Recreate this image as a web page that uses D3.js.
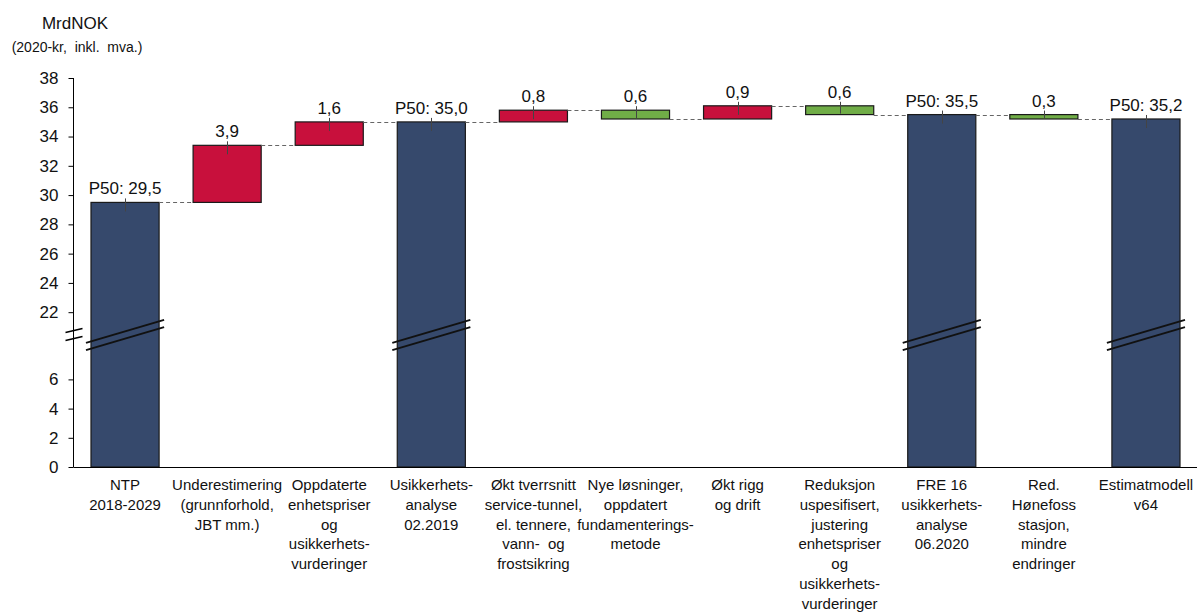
<!DOCTYPE html>
<html>
<head>
<meta charset="utf-8">
<script src="https://cdn.jsdelivr.net/npm/d3@7"></script>
<style>
  html, body { margin: 0; padding: 0; background: #fff; }
  svg { display: block; font-family: "Liberation Sans", Arial, sans-serif; }
</style>
</head>
<body>
<svg id="chart" width="1197" height="613"></svg>
<script>
// ---- data ----
const categories = [
  ["NTP", "2018-2029"],
  ["Underestimering", "(grunnforhold,", "JBT mm.)"],
  ["Oppdaterte", "enhetspriser", "og", "usikkerhets-", "vurderinger"],
  ["Usikkerhets-", "analyse", "02.2019"],
  ["Økt tverrsnitt", "service-tunnel,", "el. tennere,", "vann-  og", "frostsikring"],
  ["Nye løsninger,", "oppdatert", "fundamenterings-", "metode"],
  ["Økt rigg", "og drift"],
  ["Reduksjon", "uspesifisert,", "justering", "enhetspriser", "og", "usikkerhets-", "vurderinger"],
  ["FRE 16", "usikkerhets-", "analyse", "06.2020"],
  ["Red.", "Hønefoss", "stasjon,", "mindre", "endringer"],
  ["Estimatmodell", "v64"]
];
// type: "total" (P50 level), "up" (increase), "down" (reduction)
const types  = ["total", "up", "up", "total", "up", "down", "up", "down", "total", "down", "total"];
const values = [29.5, 3.9, 1.6, 35.0, 0.8, 0.6, 0.9, 0.6, 35.5, 0.3, 35.2];
const lowerTicks = [0, 2, 4, 6];
const upperTicks = [22, 24, 26, 28, 30, 32, 34, 36, 38];
const breakLow = 9, breakHigh = 20.4;  // hidden value range of the broken axis

const colors = { total: "#36496c", up: "#c8103c", down: "#70ad47" };
const fmt = v => d3.format(".1f")(v).replace(".", ",");

// ---- compute waterfall ----
let running = 0;
const bars = values.map((v, i) => {
  const t = types[i];
  let y0, y1;
  if (t === "total") { y0 = 0; y1 = v; running = v; }
  else if (t === "up") { y0 = running; y1 = running + v; running = y1; }
  else { y0 = running - v; y1 = running; running = y0; }
  return { i, t, v, y0, y1, end: running };
});

// ---- scales ----
const svg = d3.select("#chart");
const x = d3.scaleBand().domain(d3.range(categories.length))
  .range([74, 1197]).paddingInner(0.333).paddingOuter(0.1665);
const yBreak = 335.6;
const y = d3.scaleLinear().domain([0, breakLow, breakHigh, 38]).range([467, yBreak, yBreak, 78]);

// ---- bars ----
const g = svg.append("g");
g.selectAll("rect.bar").data(bars).join("rect")
  .attr("class", "bar")
  .attr("x", d => x(d.i))
  .attr("width", x.bandwidth())
  .attr("y", d => y(d.y1))
  .attr("height", d => y(d.y0) - y(d.y1))
  .attr("fill", d => colors[d.t])
  .attr("stroke", "#1a1a1a")
  .attr("stroke-width", 1.2);

// break marks on total bars
const slope = 11.5 / (x.bandwidth() / 2 + 5);
bars.filter(d => d.t === "total").forEach(d => {
  const cx = x(d.i) + x.bandwidth() / 2;
  const half = x.bandwidth() / 2 + 5;
  [-3.6, 3.6].forEach(off => {
    g.append("line")
      .attr("x1", cx - half).attr("y1", yBreak - 0.6 + off + half * slope)
      .attr("x2", cx + half).attr("y2", yBreak - 0.6 + off - half * slope)
      .attr("stroke", "#111").attr("stroke-width", 2);
  });
});

// connectors
bars.slice(0, -1).forEach(d => {
  const yy = Math.round(y(d.end)) + 0.5;
  g.append("line")
    .attr("x1", x(d.i) + x.bandwidth()).attr("x2", x(d.i + 1))
    .attr("y1", yy).attr("y2", yy)
    .attr("stroke", "#666").attr("stroke-width", 1)
    .attr("stroke-dasharray", "4,3");
});

// small marker lines at bar centres
bars.forEach(d => {
  const cx = Math.round(x(d.i) + x.bandwidth() / 2) + 0.5;
  const top = y(d.y1), bot = y(d.y0);
  g.append("line")
    .attr("x1", cx).attr("x2", cx)
    .attr("y1", top - 4).attr("y2", Math.min(top + 9, bot - 1))
    .attr("stroke", "#444").attr("stroke-width", 1);
});

// value labels
g.selectAll("text.val").data(bars).join("text")
  .attr("class", "val")
  .attr("x", d => x(d.i) + x.bandwidth() / 2)
  .attr("y", d => y(d.y1) - 8)
  .attr("text-anchor", "middle")
  .attr("font-size", 17)
  .attr("fill", "#111")
  .text(d => d.t === "total" ? "P50: " + fmt(d.v) : fmt(d.v));

// ---- y axis ----
const axisX = 73.5;
const yAxisUpper = d3.axisLeft(y).tickValues(upperTicks).tickSize(5).tickPadding(10).tickFormat(d3.format("d"));
const yAxisLower = d3.axisLeft(y).tickValues(lowerTicks).tickSize(5).tickPadding(10).tickFormat(d3.format("d"));
[yAxisUpper, yAxisLower].forEach(ax => {
  const a = svg.append("g").attr("transform", `translate(${axisX},0)`).call(ax);
  a.select(".domain").remove();
  a.selectAll(".tick line").attr("stroke", "#000");
  a.selectAll(".tick text").attr("font-size", 17).attr("fill", "#111")
    .attr("font-family", "Liberation Sans, Arial, sans-serif");
});
svg.append("line").attr("x1", axisX).attr("x2", axisX)
  .attr("y1", y(38)).attr("y2", y(0)).attr("stroke", "#000").attr("stroke-width", 1);
// axis break marks
[-4, 4].forEach(off => {
  svg.append("line")
    .attr("x1", axisX - 8).attr("y1", yBreak - 1 + off + 2)
    .attr("x2", axisX + 9).attr("y2", yBreak - 1 + off - 2)
    .attr("stroke", "#000").attr("stroke-width", 1.5);
});

// ---- x axis ----
svg.append("line").attr("x1", axisX).attr("x2", 1197)
  .attr("y1", Math.round(y(0)) + 0.5).attr("y2", Math.round(y(0)) + 0.5)
  .attr("stroke", "#000").attr("stroke-width", 1);

const xl = svg.append("g");
categories.forEach((lines, i) => {
  const t = xl.append("text")
    .attr("x", x(i) + x.bandwidth() / 2)
    .attr("y", 490)
    .attr("text-anchor", "middle")
    .attr("font-size", 15)
    .attr("fill", "#111")
    .style("white-space", "pre");
  lines.forEach((ln, k) => {
    t.append("tspan").attr("x", x(i) + x.bandwidth() / 2).attr("dy", k === 0 ? 0 : 19.8).text(ln);
  });
});

// ---- y title ----
svg.append("text").attr("x", 75).attr("y", 29).attr("text-anchor", "middle")
  .attr("font-size", 17).attr("fill", "#111").text("MrdNOK");
svg.append("text").attr("x", 77).attr("y", 52).attr("text-anchor", "middle")
  .attr("font-size", 14).attr("fill", "#111").style("white-space", "pre")
  .text("(2020-kr,  inkl.  mva.)");
</script>
</body>
</html>
